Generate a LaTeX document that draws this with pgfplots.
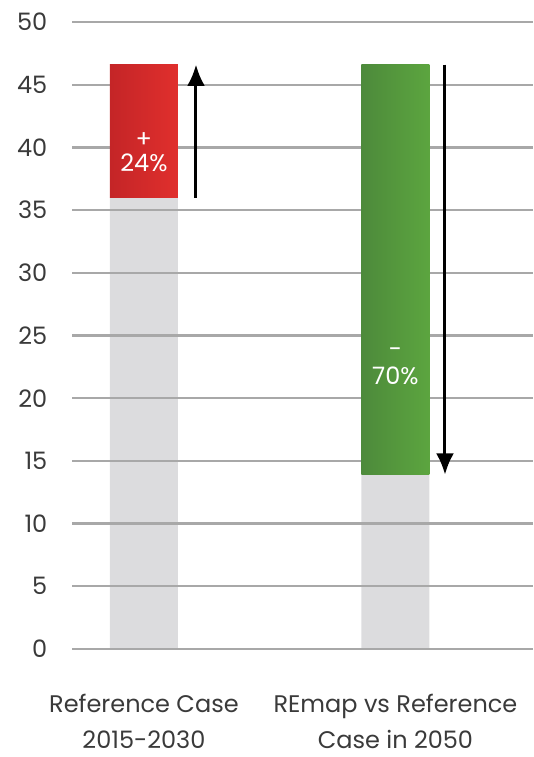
\documentclass[border=0pt]{standalone}
\usepackage{pgfplots}
\pgfplotsset{compat=1.18}
\usepackage{fontspec}
\setmainfont{Poppins}
\usetikzlibrary{arrows.meta}

\definecolor{barGray}{HTML}{DCDCDE}
\definecolor{gridGray}{HTML}{A8A8A8}
\definecolor{redDark}{HTML}{C42527}
\definecolor{redLight}{HTML}{E02F2D}
\definecolor{greenDark}{HTML}{4D8A3B}
\definecolor{greenLight}{HTML}{5CA53F}
\definecolor{labelGray}{HTML}{3A3A3A}

\begin{document}
\begin{tikzpicture}
\begin{axis}[
  set layers,
  scale only axis,
  width=345.75pt, height=470.25pt,
  xmin=-0.286, xmax=1.547,
  ymin=0, ymax=50,
  ytick={0,5,...,50},
  xtick={0,1},
  xticklabels={{Reference Case\\2015-2030},{REmap vs Reference\\Case in 2050}},
  ymajorgrids,
  grid style={gridGray, line width=1.7pt},
  axis line style={draw=none},
  major tick length=0pt,
  bar width=0.27,
  /pgf/number format/assume math mode=true,
  ticklabel style={font=\fontsize{18}{27}\selectfont, text=labelGray},
  yticklabel style={xshift=-15pt},
  xticklabel style={align=center, yshift=-30pt},
]
% base levels (gray), behind the grid
\addplot[ybar, bar shift=0pt, fill=barGray, draw=none, on layer=axis background]
  coordinates {(0,36.0) (1,13.9)};

% increase 2015-2030: from 36.0 up to 46.6
\addplot[draw=none, left color=redDark, right color=redLight]
  coordinates {(-0.135,36.0) (0.135,36.0) (0.135,46.6) (-0.135,46.6)} -- cycle;
% reduction in 2050: from 46.6 down to 13.9
\addplot[draw=none, left color=greenDark, right color=greenLight]
  coordinates {(0.865,13.9) (1.135,13.9) (1.135,46.6) (0.865,46.6)} -- cycle;

% change arrows
\addplot[black, line width=2.25pt, -{Latex[length=16pt,width=13.5pt]}]
  coordinates {(0.207,36.0) (0.207,46.6)};
\addplot[black, line width=2.25pt, -{Latex[length=16pt,width=13.5pt]}]
  coordinates {(1.197,46.6) (1.197,13.9)};

\node[text=white, font=\fontsize{18}{23}\selectfont] at (axis cs:0,40.6) {+};
\node[text=white, font=\fontsize{18}{23}\selectfont] at (axis cs:0,38.8) {24\%};
\node[text=white, font=\fontsize{18}{23}\selectfont] at (axis cs:1,23.6) {-};
\node[text=white, font=\fontsize{18}{23}\selectfont] at (axis cs:1,21.8) {70\%};

\coordinate (bl) at (rel axis cs:0,0);
\coordinate (tr) at (rel axis cs:1,1);
\end{axis}
\pgfresetboundingbox
\path ([xshift=-54pt,yshift=-81pt]bl) rectangle ([yshift=16.5pt]tr);
\end{tikzpicture}
\end{document}
